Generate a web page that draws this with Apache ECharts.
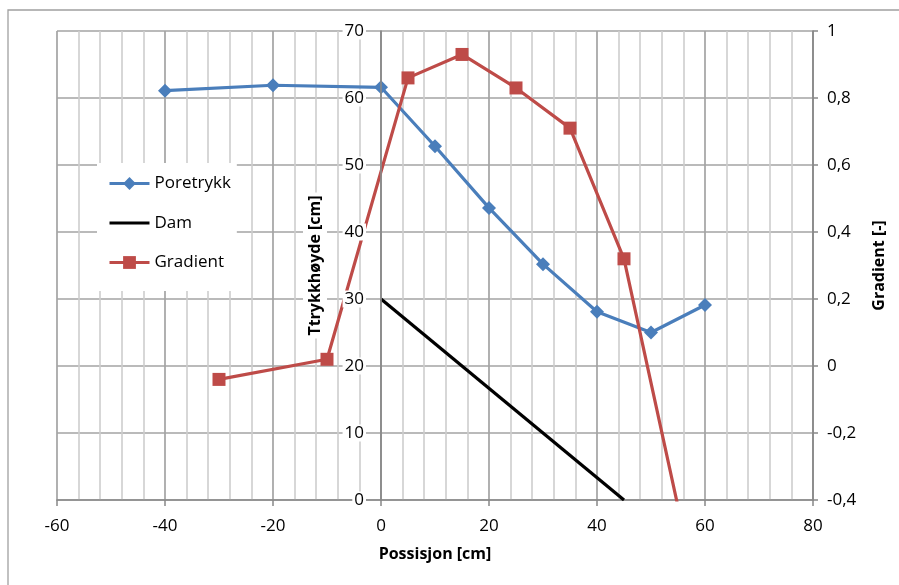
<!DOCTYPE html>
<html>
<head>
<meta charset="utf-8">
<script src="https://cdn.jsdelivr.net/npm/echarts@6/dist/echarts.min.js"></script>
<style>
  html, body { margin: 0; padding: 0; background: #fff; }
  #chart { width: 899px; height: 585px; }
</style>
</head>
<body>
<div id="chart"></div>
<script>
// Posisjoner langs modellen [cm]
const poreX = [-40, -20, 0, 10, 20, 30, 40, 50, 60];
// Poretrykk (trykkhøyde) [cm]
const poreY = [61.1, 61.9, 61.6, 52.8, 43.6, 35.2, 28.1, 25.0, 29.1];

// Damprofil
const damX = [0, 45];
const damY = [30, 0];

// Gradient [-]
const gradX = [-30, -10, 5, 15, 25, 35, 45, 55];
const gradY = [-0.04, 0.02, 0.86, 0.93, 0.83, 0.71, 0.32, -0.42];

const FONT = 'Open Sans';
const pair = (xs, ys) => xs.map((x, i) => [x, ys[i]]);
const comma = v => String(Math.round(v * 10) / 10).replace('.', ',');

const W = 899, GRID_LEFT = 57, GRID_RIGHT = 86;
const X_MIN = -60, X_MAX = 80;
// the left value axis sits where the position axis passes 0
const yAxisShift = -(W - GRID_LEFT - GRID_RIGHT) * (0 - X_MIN) / (X_MAX - X_MIN);

const MAJOR_GRID = { color: '#a3a3a3', width: 1.7 };
const MINOR_GRID = { color: '#cdcdcd', width: 1.6 };

const chart = echarts.init(document.getElementById('chart'), null, { renderer: 'canvas' });

chart.setOption({
  backgroundColor: '#fff',
  animation: false,
  textStyle: { fontFamily: FONT },
  grid: { left: GRID_LEFT, right: GRID_RIGHT, top: 31, bottom: 85, containLabel: false, outerBoundsMode: 'none' },
  graphic: [{
    type: 'rect',
    shape: { x: 8, y: 10, width: 1000, height: 1000 },
    style: { fill: 'none', stroke: '#a0a0a0', lineWidth: 1.3 },
    silent: true, z: -1
  }],
  legend: {
    orient: 'vertical',
    left: 97, top: 163,
    backgroundColor: '#fff',
    padding: [12, 6, 20, 11],
    itemGap: 22.5,
    itemWidth: 40, itemHeight: 16,
    lineStyle: { width: 3 },
    textStyle: { fontFamily: FONT, fontSize: 17, color: '#000' },
    data: ['Poretrykk', { name: 'Dam', itemStyle: { opacity: 0 } }, 'Gradient']
  },
  xAxis: {
    type: 'value',
    min: X_MIN, max: X_MAX, interval: 20,
    name: 'Possisjon [cm]',
    nameLocation: 'middle',
    nameGap: 46,
    nameTextStyle: { fontFamily: FONT, fontSize: 16, fontWeight: 'bold', color: '#000' },
    axisLine: { onZero: false, lineStyle: { color: '#888', width: 1.7 } },
    axisTick: { show: true, length: 6, lineStyle: { color: '#888', width: 1.5 } },
    axisLabel: { fontFamily: FONT, fontSize: 17, color: '#000', margin: 18 },
    splitLine: { show: true, lineStyle: MAJOR_GRID },
    minorTick: { show: false, splitNumber: 5 },
    minorSplitLine: { show: true, lineStyle: MINOR_GRID }
  },
  yAxis: [{
    type: 'value',
    min: 0, max: 70, interval: 10,
    z: 10,
    offset: yAxisShift,
    name: 'Ttrykkhøyde [cm]',
    nameLocation: 'middle',
    nameGap: 54,
    nameRotate: 90,
    nameTextStyle: {
      fontFamily: FONT, fontSize: 16, fontWeight: 'bold', color: '#000',
      backgroundColor: '#fff', padding: [4, 3]
    },
    axisLine: { show: true, onZero: false, lineStyle: { color: '#888', width: 1.7 } },
    axisTick: { show: false },
    axisLabel: {
      fontFamily: FONT, fontSize: 17, color: '#000', margin: 15,
      backgroundColor: '#fff', padding: [0, 2]
    },
    splitLine: { show: false }
  }, {
    type: 'value',
    position: 'right',
    min: -0.4, max: 1, interval: 0.2,
    name: 'Gradient [-]',
    nameLocation: 'middle',
    nameGap: 58,
    nameRotate: 90,
    nameTextStyle: { fontFamily: FONT, fontSize: 16, fontWeight: 'bold', color: '#000' },
    axisLine: { show: true, onZero: false, lineStyle: { color: '#888', width: 1.7 } },
    axisTick: { show: true, length: 5, lineStyle: { color: '#888', width: 1.5 } },
    axisLabel: { fontFamily: FONT, fontSize: 17, color: '#000', margin: 14, formatter: comma },
    splitLine: { show: true, lineStyle: MAJOR_GRID }
  }],
  series: [{
    name: 'Poretrykk',
    type: 'line',
    yAxisIndex: 0,
    data: pair(poreX, poreY),
    symbol: 'diamond', symbolSize: 14,
    lineStyle: { color: '#4a7ebb', width: 3.2 },
    itemStyle: { color: '#4a7ebb' },
    clip: true
  }, {
    name: 'Dam',
    type: 'line',
    yAxisIndex: 0,
    data: pair(damX, damY),
    symbol: 'none',
    lineStyle: { color: '#000', width: 3.2 },
    itemStyle: { color: '#000' },
    clip: true
  }, {
    name: 'Gradient',
    type: 'line',
    yAxisIndex: 1,
    data: pair(gradX, gradY),
    symbol: 'rect', symbolSize: 13,
    lineStyle: { color: '#be4b48', width: 3.2 },
    itemStyle: { color: '#be4b48' },
    clip: true
  }]
});
</script>
</body>
</html>
